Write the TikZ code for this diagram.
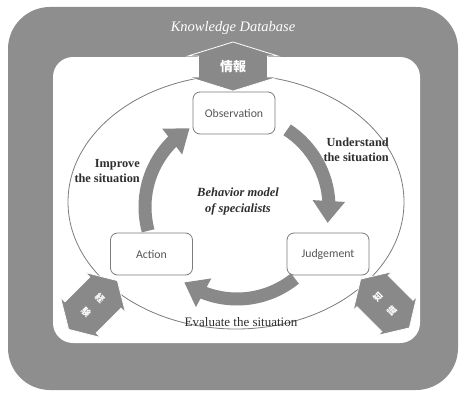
\documentclass[tikz,border=0pt]{standalone}
\usepackage{fontspec}
\setmainfont{Liberation Serif}
\newfontfamily\boxfont{Carlito}
\newfontfamily\jpfont{Noto Sans CJK JP}
\usetikzlibrary{arrows.meta,bending,calc}

\definecolor{frame}{HTML}{8E8E8E}
\definecolor{flow}{HTML}{898989}
\definecolor{rim}{HTML}{7C7C7C}
\definecolor{ink}{HTML}{2E2E2E}
\definecolor{boxink}{HTML}{555555}

% double-headed block arrow: centre, angle, half length, head length,
% shaft half width, head half width
\newcommand\blockarrow[6]{%
  \begin{scope}[shift={#1}, rotate=#2]
    \fill[flow, draw=white, line width=0.8pt]
      (-#3,0) -- (-#3+#4,#6) -- (-#3+#4,#5) -- (#3-#4,#5) -- (#3-#4,#6) --
      (#3,0) -- (#3-#4,-#6) -- (#3-#4,-#5) -- (-#3+#4,-#5) -- (-#3+#4,-#6) -- cycle;
  \end{scope}}

\tikzset{
  stage/.style={draw=rim, fill=white, rounded corners=7pt, line width=0.8pt,
    minimum width=82pt, minimum height=42pt, inner sep=0pt,
    font=\boxfont\fontsize{11.8}{14}\selectfont, text=boxink},
  cycle arrow/.style={flow, line width=13pt,
    -{Triangle[length=22pt, width=31pt]}},
  note/.style={text=ink, font=\fontsize{12.3}{15.5}\selectfont\bfseries, inner sep=0pt},
  tag/.style={text=white, inner sep=0pt},
  sidetag/.style={tag, font=\jpfont\bfseries\fontsize{9}{10}\selectfont},
}

\begin{document}
\begin{tikzpicture}[x=1pt, y=1pt]
  \useasboundingbox (0,0) rectangle (465,392);

  % database frame and its inner field
  \fill[frame, rounded corners=42pt] (8,2) rectangle (458,385);
  \fill[white, rounded corners=20pt] (53,49) rectangle (420,335);
  \node[text=white, font=\fontsize{14.5}{16}\selectfont\itshape, inner sep=0pt]
    (db) at (233,364) {Knowledge Database};

  % boundary of the behaviour model
  \draw[rim, line width=0.8pt] (236,190) ellipse [x radius=168, y radius=127];

  % exchanges with the database
  \blockarrow{(233,325.5)}{90}{24.5}{14}{34.5}{45}
  \node[tag, font=\jpfont\bfseries\fontsize{13}{14}\selectfont] (info) at (233,325.5) {情報};

  \blockarrow{(93,87)}{45}{34.5}{17}{22}{28.5}
  \coordinate (expc) at (93,87);
  \node[sidetag, rotate=-45] (expa) at ($(expc)+(7,7)$) {経};
  \node[sidetag, rotate=-45] (expb) at ($(expc)+(-7,-7)$) {験};

  \blockarrow{(385,88.5)}{-45}{34.5}{17}{22}{27.5}
  \coordinate (knowc) at (385,88.5);
  \node[sidetag, rotate=45] (knowa) at ($(knowc)+(-7,7)$) {知};
  \node[sidetag, rotate=45] (knowb) at ($(knowc)+(7,-7)$) {識};

  % the three stages
  \node[stage] (obs) at (234,279) {Observation};
  \node[stage] (act) at (151.5,138) {Action};
  \node[stage] (jud) at (328,138) {Judgement};

  % cycle between the stages
  \coordinate (hub) at (237,185);
  \draw[cycle arrow] ($(hub)+(57:92)$) arc[start angle=57, end angle=-10, radius=92];
  \draw[cycle arrow] ($(hub)+(-51:92)$) arc[start angle=-51, end angle=-125, radius=92];
  \draw[cycle arrow] ($(hub)+(195:92)$) arc[start angle=195, end angle=121, radius=92];

  % labels
  \node[note, anchor=east, align=right] (und) at (389,242) {Understand\\the situation};
  \node[note, anchor=east, align=right] (imp) at (140,221) {Improve\\the situation};
  \node[note, align=center, font=\fontsize{12.5}{16.5}\selectfont\bfseries\itshape]
    (model) at (238,190.5) {Behavior model\\of specialists};
  \node[text=ink, font=\fontsize{13}{15}\selectfont, inner sep=0pt]
    (eval) at (241,70) {Evaluate the situation};
\end{tikzpicture}
\end{document}
